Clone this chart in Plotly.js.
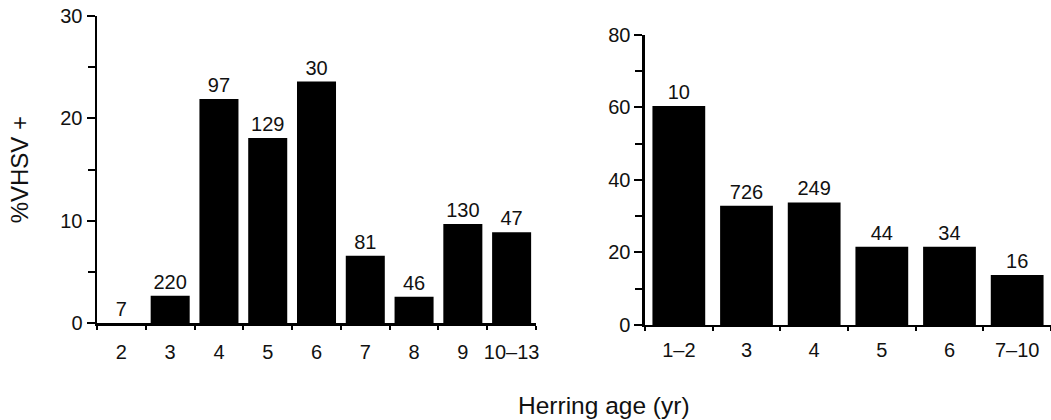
<!DOCTYPE html>
<html><head><meta charset="utf-8">
<script src="https://cdn.plot.ly/plotly-3.0.1.min.js"></script>
<style>html,body{margin:0;padding:0;background:#fff}</style>
</head><body><div id="chart" style="width:1051px;height:420px"></div>
<script>
const leftAges = ['2', '3', '4', '5', '6', '7', '8', '9', '10–13'];
const leftPct = [0, 2.7, 21.9, 18.1, 23.6, 6.6, 2.6, 9.7, 8.9];
const leftN = ['7', '220', '97', '129', '30', '81', '46', '130', '47'];

const rightAges = ['1–2', '3', '4', '5', '6', '7–10'];
const rightPct = [60.4, 32.9, 33.8, 21.6, 21.6, 13.8];
const rightN = ['10', '726', '249', '44', '34', '16'];

const leftYTicks = [0, 10, 20, 30];
const leftYMinor = [5, 15, 25];
const rightYTicks = [0, 20, 40, 60, 80];
const rightYMinor = [10, 30, 50, 70];

const txt = '#111';
const FONT = 'Liberation Sans, Arial, Helvetica, sans-serif';

function barTrace(x, y, t, xa, ya, w) {
  return {
    type: 'bar', x: x, y: y, text: t, xaxis: xa, yaxis: ya, width: w,
    marker: {color: '#000', line: {width: 0}},
    textposition: 'outside', cliponaxis: false, constraintext: 'none',
    textfont: {size: 20, color: txt, family: FONT},
    hoverinfo: 'skip'
  };
}

function xAxis(domain, n, anchor, standoff) {
  return {
    type: 'category', domain: domain, range: [-0.5, n - 0.5], anchor: anchor,
    showline: true, linecolor: '#000', linewidth: 2.5,
    ticks: 'outside', tickson: 'boundaries', ticklen: 4, tickwidth: 2, tickcolor: '#000',
    showgrid: false, zeroline: false, tickangle: 0,
    tickfont: {size: 20, color: txt, family: FONT}, ticklabelstandoff: standoff,
    fixedrange: true
  };
}

function yAxis(domain, range, tv, minor, anchor, title) {
  const ax = {
    domain: domain, range: range, anchor: anchor,
    tickmode: 'array', tickvals: tv, ticktext: tv.map(String),
    showline: true, linecolor: '#000', linewidth: 2.5,
    ticks: 'outside', ticklen: 8, tickwidth: 2, tickcolor: '#000',
    minor: {tickmode: 'array', tickvals: minor, ticks: 'outside', ticklen: 7, tickwidth: 2, tickcolor: '#000', showgrid: false},
    showgrid: false, zeroline: false,
    tickfont: {size: 20, color: txt, family: FONT},
    fixedrange: true
  };
  if (title) ax.title = {text: title, font: {size: 24, color: txt, family: FONT}, standoff: 25};
  return ax;
}

const data = [
  barTrace(leftAges, leftPct, leftN, 'x', 'y', 0.8),
  barTrace(rightAges, rightPct, rightN, 'x2', 'y2', 0.78)
];

const layout = {
  width: 1051, height: 420,
  margin: {l: 0, r: 0, t: 0, b: 0},
  paper_bgcolor: '#fff', plot_bgcolor: 'rgba(0,0,0,0)',
  showlegend: false,
  font: {family: FONT, color: txt},
  xaxis: xAxis([0.0923, 0.510], leftAges.length, 'y', 9),
  yaxis: yAxis([0.2302, 0.9619], [0, 30], leftYTicks, leftYMinor, 'x', '%VHSV +'),
  xaxis2: xAxis([0.6137, 1.0], rightAges.length, 'y2', 6),
  yaxis2: yAxis([0.2262, 0.9167], [0, 80], rightYTicks, rightYMinor, 'x2', null),
  annotations: [{
    text: 'Herring age (yr)', xref: 'paper', yref: 'paper', x: 0.5747, y: 0.0357,
    xanchor: 'center', yanchor: 'middle', showarrow: false,
    font: {size: 24.5, color: txt, family: FONT}
  }]
};

Plotly.newPlot('chart', data, layout, {displayModeBar: false, staticPlot: true});
</script>
</body></html>
